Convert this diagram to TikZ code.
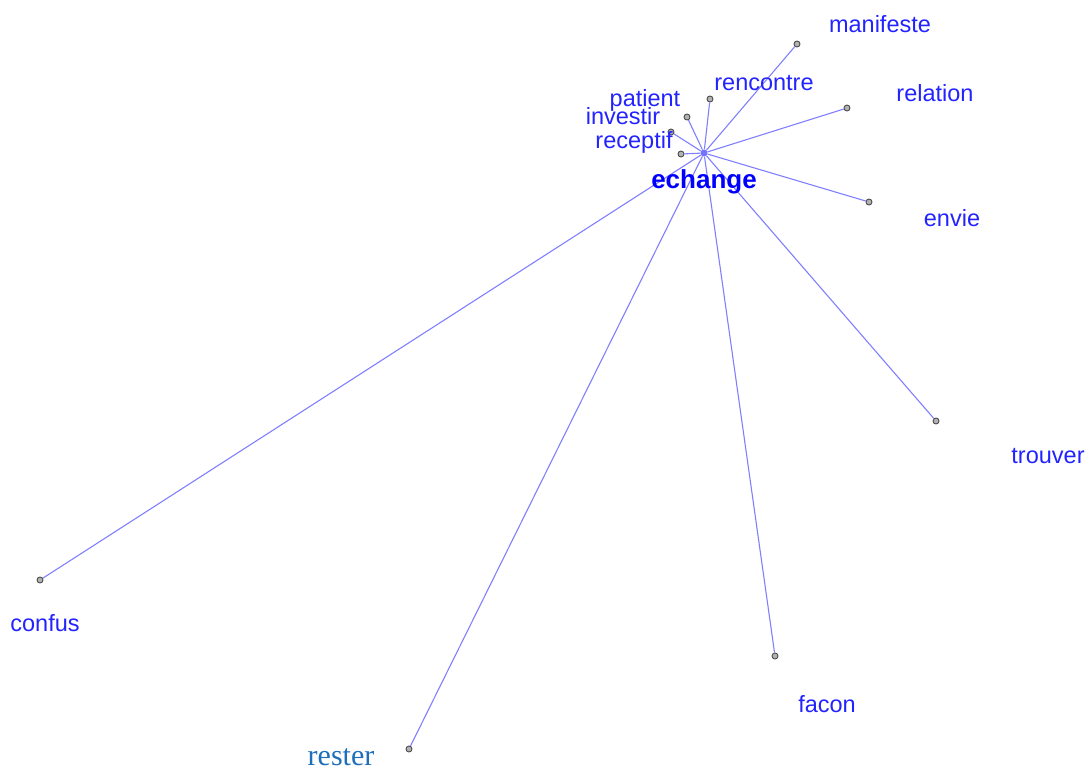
\documentclass[tikz,border=0pt]{standalone}
\usepackage{fontspec}
\setmainfont{Liberation Sans}
\newfontfamily\serifword{Liberation Serif}
\definecolor{edgeblue}{RGB}{128,128,255}
\definecolor{wordblue}{RGB}{35,35,255}
\definecolor{resterblue}{RGB}{30,110,185}
\tikzset{
  leaf/.style={circle, draw=black!70, fill=black!30, line width=0.9pt, inner sep=0pt, minimum size=6pt},
  hub/.style={circle, fill=blue!55, inner sep=0pt, minimum size=7pt},
  edge/.style={edgeblue, line width=1.1pt},
  word/.style={anchor=base, inner sep=0pt, text=wordblue, font=\fontsize{23.5}{28}\selectfont}
}
\begin{document}
\begin{tikzpicture}[x=1pt, y=-1pt]
    % 1. Canvas
    \useasboundingbox (0,0) rectangle (1089,771);

    % 2. Central word
    \node[hub] (echange) at (704,153) {};

    % 3. Leaf points
    \node[leaf] (manifeste) at (797,44) {};
    \node[leaf] (rencontre) at (710,99) {};
    \node[leaf] (relation)  at (847,108) {};
    \node[leaf] (patient)   at (687,117) {};
    \node[leaf] (investir)  at (671,132) {};
    \node[leaf] (receptif)  at (681,154) {};
    \node[leaf] (envie)     at (869,202) {};
    \node[leaf] (trouver)   at (936,421) {};
    \node[leaf] (facon)     at (775,656) {};
    \node[leaf] (rester)    at (409,749) {};
    \node[leaf] (confus)    at (40,580) {};

    % 4. Links from the central word
    \foreach \w in {manifeste,rencontre,relation,patient,investir,receptif,
                    envie,trouver,facon,rester,confus}
        \draw[edge] (echange) -- (\w);

    % 5. Labels
    \node[word, text=blue, font=\bfseries\fontsize{26}{30}\selectfont] (lbl-echange) at (704,188) {echange};
    \node[word] (lbl-manifeste) at (880,32) {manifeste};
    \node[word] (lbl-rencontre) at (764,90) {rencontre};
    \node[word] (lbl-relation)  at (935,101) {relation};
    \node[word] (lbl-patient)   at (645,106) {patient};
    \node[word] (lbl-investir)  at (623,124) {investir};
    \node[word] (lbl-receptif)  at (634,148) {receptif};
    \node[word] (lbl-envie)     at (952,226) {envie};
    \node[word] (lbl-trouver)   at (1048,463) {trouver};
    \node[word] (lbl-facon)     at (827,712) {facon};
    \node[word] (lbl-confus)    at (45,631) {confus};
    \node[word, text=resterblue, font=\serifword\fontsize{30}{36}\selectfont] (lbl-rester) at (341,765) {rester};
\end{tikzpicture}
\end{document}
